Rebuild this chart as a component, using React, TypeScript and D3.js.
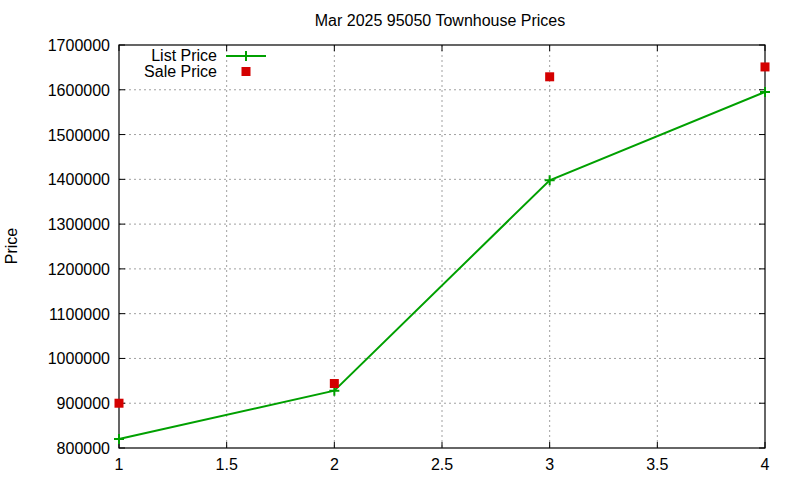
import React from "react";
import * as d3 from "d3";

const xValues = [1, 2, 3, 4];
const listPrice = [820000, 928000, 1398000, 1595000];
const salePrice = [900000, 944000, 1629000, 1651000];
const xTicks = [1, 1.5, 2, 2.5, 3, 3.5, 4];
const yTicks = [800000, 900000, 1000000, 1100000, 1200000, 1300000, 1400000, 1500000, 1600000, 1700000];

const W = 800, H = 480;
const L = 119, R = 765, T = 45, B = 448;
const font = "Liberation Sans, Arial, sans-serif";
const fs = 16;

export default function App() {
  const x = d3.scaleLinear().domain([1, 4]).range([L, R]);
  const y = d3.scaleLinear().domain([800000, 1700000]).range([B, T]);
  const line = d3.line<number>().x((_, i) => x(xValues[i])).y((d) => y(d));
  const green = "#00a000";
  const red = "#d40000";
  return (
    <svg width={W} height={H} style={{ position: "absolute", left: 0, top: 0 }} fontFamily={font}>
      <rect width={W} height={H} fill="#fff" />
      {xTicks.slice(1, -1).map((t) => (
        <line key={"gx" + t} x1={x(t)} x2={x(t)} y1={T} y2={B} stroke="#a0a0a0" strokeDasharray="2,3" />
      ))}
      {yTicks.slice(1, -1).map((t) => (
        <line key={"gy" + t} x1={L} x2={R} y1={y(t)} y2={y(t)} stroke="#a0a0a0" strokeDasharray="2,3" />
      ))}
      {xTicks.map((t) => (
        <g key={"tx" + t}>
          <line x1={x(t)} x2={x(t)} y1={B} y2={B - 6} stroke="#000" />
          <line x1={x(t)} x2={x(t)} y1={T} y2={T + 6} stroke="#000" />
          <text x={x(t)} y={B + 22} textAnchor="middle" fontSize={fs}>{t}</text>
        </g>
      ))}
      {yTicks.map((t) => (
        <g key={"ty" + t}>
          <line x1={L} x2={L + 6} y1={y(t)} y2={y(t)} stroke="#000" />
          <line x1={R} x2={R - 6} y1={y(t)} y2={y(t)} stroke="#000" />
          <text x={L - 9} y={y(t) + 6} textAnchor="end" fontSize={fs}>{t}</text>
        </g>
      ))}
      <rect x={L} y={T} width={R - L} height={B - T} fill="none" stroke="#000" strokeWidth={1.2} />
      <path d={line(listPrice) || ""} fill="none" stroke={green} strokeWidth={2} />
      {listPrice.map((v, i) => (
        <path key={"lp" + i} d={`M${x(xValues[i]) - 5},${y(v)}h10M${x(xValues[i])},${y(v) - 5}v10`} stroke={green} strokeWidth={2} />
      ))}
      {salePrice.map((v, i) => (
        <rect key={"sp" + i} x={x(xValues[i]) - 4.5} y={y(v) - 4.5} width={9} height={9} fill={red} />
      ))}
      <text x={217} y={61} textAnchor="end" fontSize={fs}>List Price</text>
      <line x1={226} x2={266} y1={56} y2={56} stroke={green} strokeWidth={2} />
      <path d={`M241,56h10M246,51v10`} stroke={green} strokeWidth={2} />
      <text x={217} y={77} textAnchor="end" fontSize={fs}>Sale Price</text>
      <rect x={241.5} y={67} width={9} height={9} fill={red} />
      <text x={440} y={26} textAnchor="middle" fontSize={fs}>Mar 2025 95050 Townhouse Prices</text>
      <text transform={`translate(17,246) rotate(-90)`} textAnchor="middle" fontSize={fs}>Price</text>
    </svg>
  );
}
